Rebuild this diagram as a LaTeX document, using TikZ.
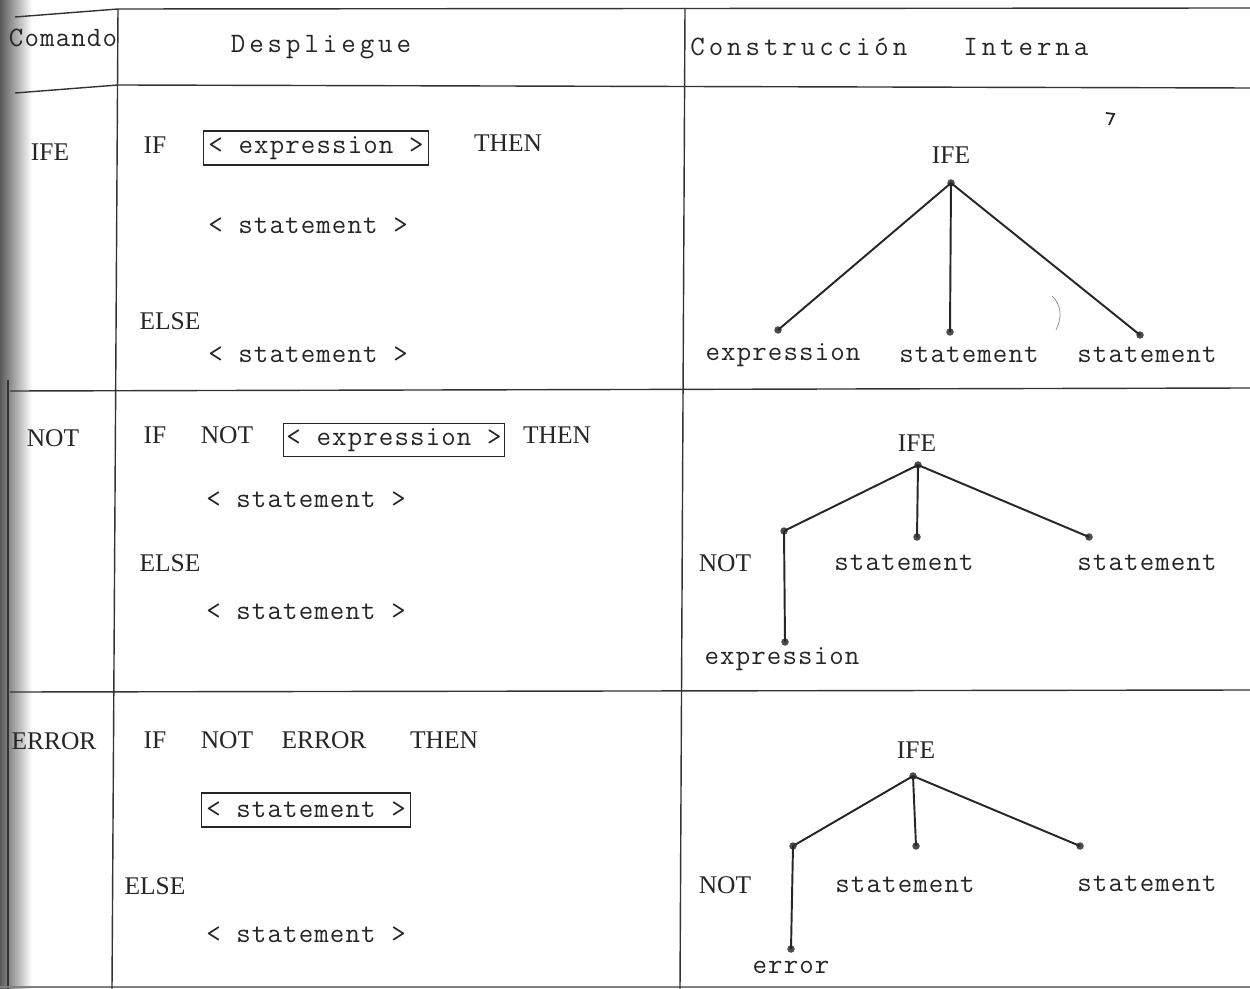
\documentclass[tikz,border=0pt]{standalone}
\usepackage{fontspec}
\newfontfamily\typfont[LetterSpace=4]{Latin Modern Mono}
\newfontfamily\hdrfont[LetterSpace=14]{Latin Modern Mono}
\newfontfamily\capsfont{Liberation Serif}
\begin{document}
\begin{tikzpicture}[x=0.02cm,y=-0.02cm,
  mono/.style={font=\typfont\fontsize{16}{18}\selectfont, text=black!85, inner sep=0pt},
  hdr/.style={font=\hdrfont\fontsize{16}{18}\selectfont, text=black!85, inner sep=0pt},
  kw/.style={font=\capsfont\fontsize{14.5}{16}\selectfont, text=black!85, inner sep=0pt},
  dot/.style={circle, fill=black!70, inner sep=0pt, minimum size=0.15cm},
  edge/.style={line width=1.1pt, black!85},
  rule/.style={line width=0.8pt, black!80},
  codebox/.style={draw=black!85, line width=0.9pt, font=\typfont\fontsize{16}{18}\selectfont, text=black!85, inner sep=0pt, minimum height=0.68cm}
]
\useasboundingbox (0,0) rectangle (1250,989);
\fill[white] (0,0) rectangle (1250,989);
% scan shading on the left edge
\shade[left color=black!65, right color=white] (0,0) rectangle (32,989);
\draw[rule] (8,380) -- (8,989);

% table rules
\draw[rule] (15,17) -- (118,9) -- (1250,8);
\draw[rule] (15,93) -- (118,85) -- (1250,88);
\draw[rule] (10,391) -- (1250,388);
\draw[rule] (10,692) -- (1250,690);
\draw[rule, black!50] (0,987) -- (1250,987);
\draw[rule] (118,9) -- (112,989);
\draw[rule] (685,8) -- (680,989);

% header
\node[mono] (hcom) at (63,38) {Comando};
\node[hdr] (hdes) at (321,47) {Despliegue};
\node[hdr, anchor=west] (hcon) at (690,47) {Construcción};
\node[hdr, anchor=west] (hint) at (963,47) {Interna};

% left column
\node[kw] (cife) at (50,152) {IFE};
\node[kw] (cnot) at (53,438) {NOT};
\node[kw] (cerr) at (54,741) {ERROR};

% row 1 - despliegue
\node[kw] (r1if) at (155,145) {IF};
\node[codebox, minimum width=4.5cm] (r1box) at (316,148) {< expression >};
\node[kw] (r1then) at (508,143) {THEN};
\node[mono] (r1s1) at (308,226) {< statement >};
\node[kw] (r1else) at (170,321) {ELSE};
\node[mono] (r1s2) at (308,355) {< statement >};

% row 2 - despliegue
\node[kw] (r2if) at (155,435) {IF};
\node[kw] (r2not) at (227,435) {NOT};
\node[codebox, minimum width=4.42cm, minimum height=0.66cm] (r2box) at (394,440) {< expression >};
\node[kw] (r2then) at (557,435) {THEN};
\node[mono] (r2s1) at (306,500) {< statement >};
\node[kw] (r2else) at (170,563) {ELSE};
\node[mono] (r2s2) at (306,612) {< statement >};

% row 3 - despliegue
\node[kw] (r3if) at (155,740) {IF};
\node[kw] (r3not) at (227,740) {NOT};
\node[kw] (r3err) at (324,740) {ERROR};
\node[kw] (r3then) at (444,740) {THEN};
\node[codebox, minimum width=4.18cm] (r3box) at (306,810) {< statement >};
\node[kw] (r3else) at (155,886) {ELSE};
\node[mono] (r3s2) at (306,935) {< statement >};

% tree 1
\node[kw] (t1) at (951,155) {IFE};
\node[dot] (r1) at (951,183) {};
\node[dot] (a1) at (778,330) {};
\node[dot] (b1) at (950,332) {};
\node[dot] (c1) at (1140,335) {};
\draw[edge] (r1.center) -- (a1.center);
\draw[edge] (r1.center) -- (b1.center);
\draw[edge] (r1.center) -- (c1.center);
\node[mono] (la1) at (783,355) {expression};
\node[mono] (lb1) at (969,355) {statement};
\node[mono] (lc1) at (1147,355) {statement};

% tree 2
\node[kw] (t2) at (917,443) {IFE};
\node[dot] (r2) at (918,465) {};
\node[dot] (n2) at (784,531) {};
\node[dot] (b2) at (917,537) {};
\node[dot] (c2) at (1089,537) {};
\node[dot] (e2) at (785,642) {};
\draw[edge] (r2.center) -- (n2.center);
\draw[edge] (r2.center) -- (b2.center);
\draw[edge] (r2.center) -- (c2.center);
\draw[edge] (n2.center) -- (e2.center);
\node[kw] (ln2) at (725,563) {NOT};
\node[mono] (lb2) at (904,563) {statement};
\node[mono] (lc2) at (1147,563) {statement};
\node[mono] (le2) at (782,659) {expression};

% tree 3
\node[kw] (t3) at (916,750) {IFE};
\node[dot] (r3) at (913,776) {};
\node[dot] (n3) at (793,846) {};
\node[dot] (b3) at (916,846) {};
\node[dot] (c3) at (1080,846) {};
\node[dot] (e3) at (791,949) {};
\draw[edge] (r3.center) -- (n3.center);
\draw[edge] (r3.center) -- (b3.center);
\draw[edge] (r3.center) -- (c3.center);
\draw[edge] (n3.center) -- (e3.center);
\node[kw] (ln3) at (725,885) {NOT};
\node[mono] (lb3) at (905,885) {statement};
\node[mono] (lc3) at (1147,884) {statement};
\node[mono] (le3) at (791,967) {error};

% stray pen marks
\draw[line width=1pt, black!85] (1106,113) -- (1114,114) -- (1109,125);
\draw[line width=0.4pt, black!45] (1052,296) .. controls (1062,305) and (1062,318) .. (1056,330);
\end{tikzpicture}
\end{document}
